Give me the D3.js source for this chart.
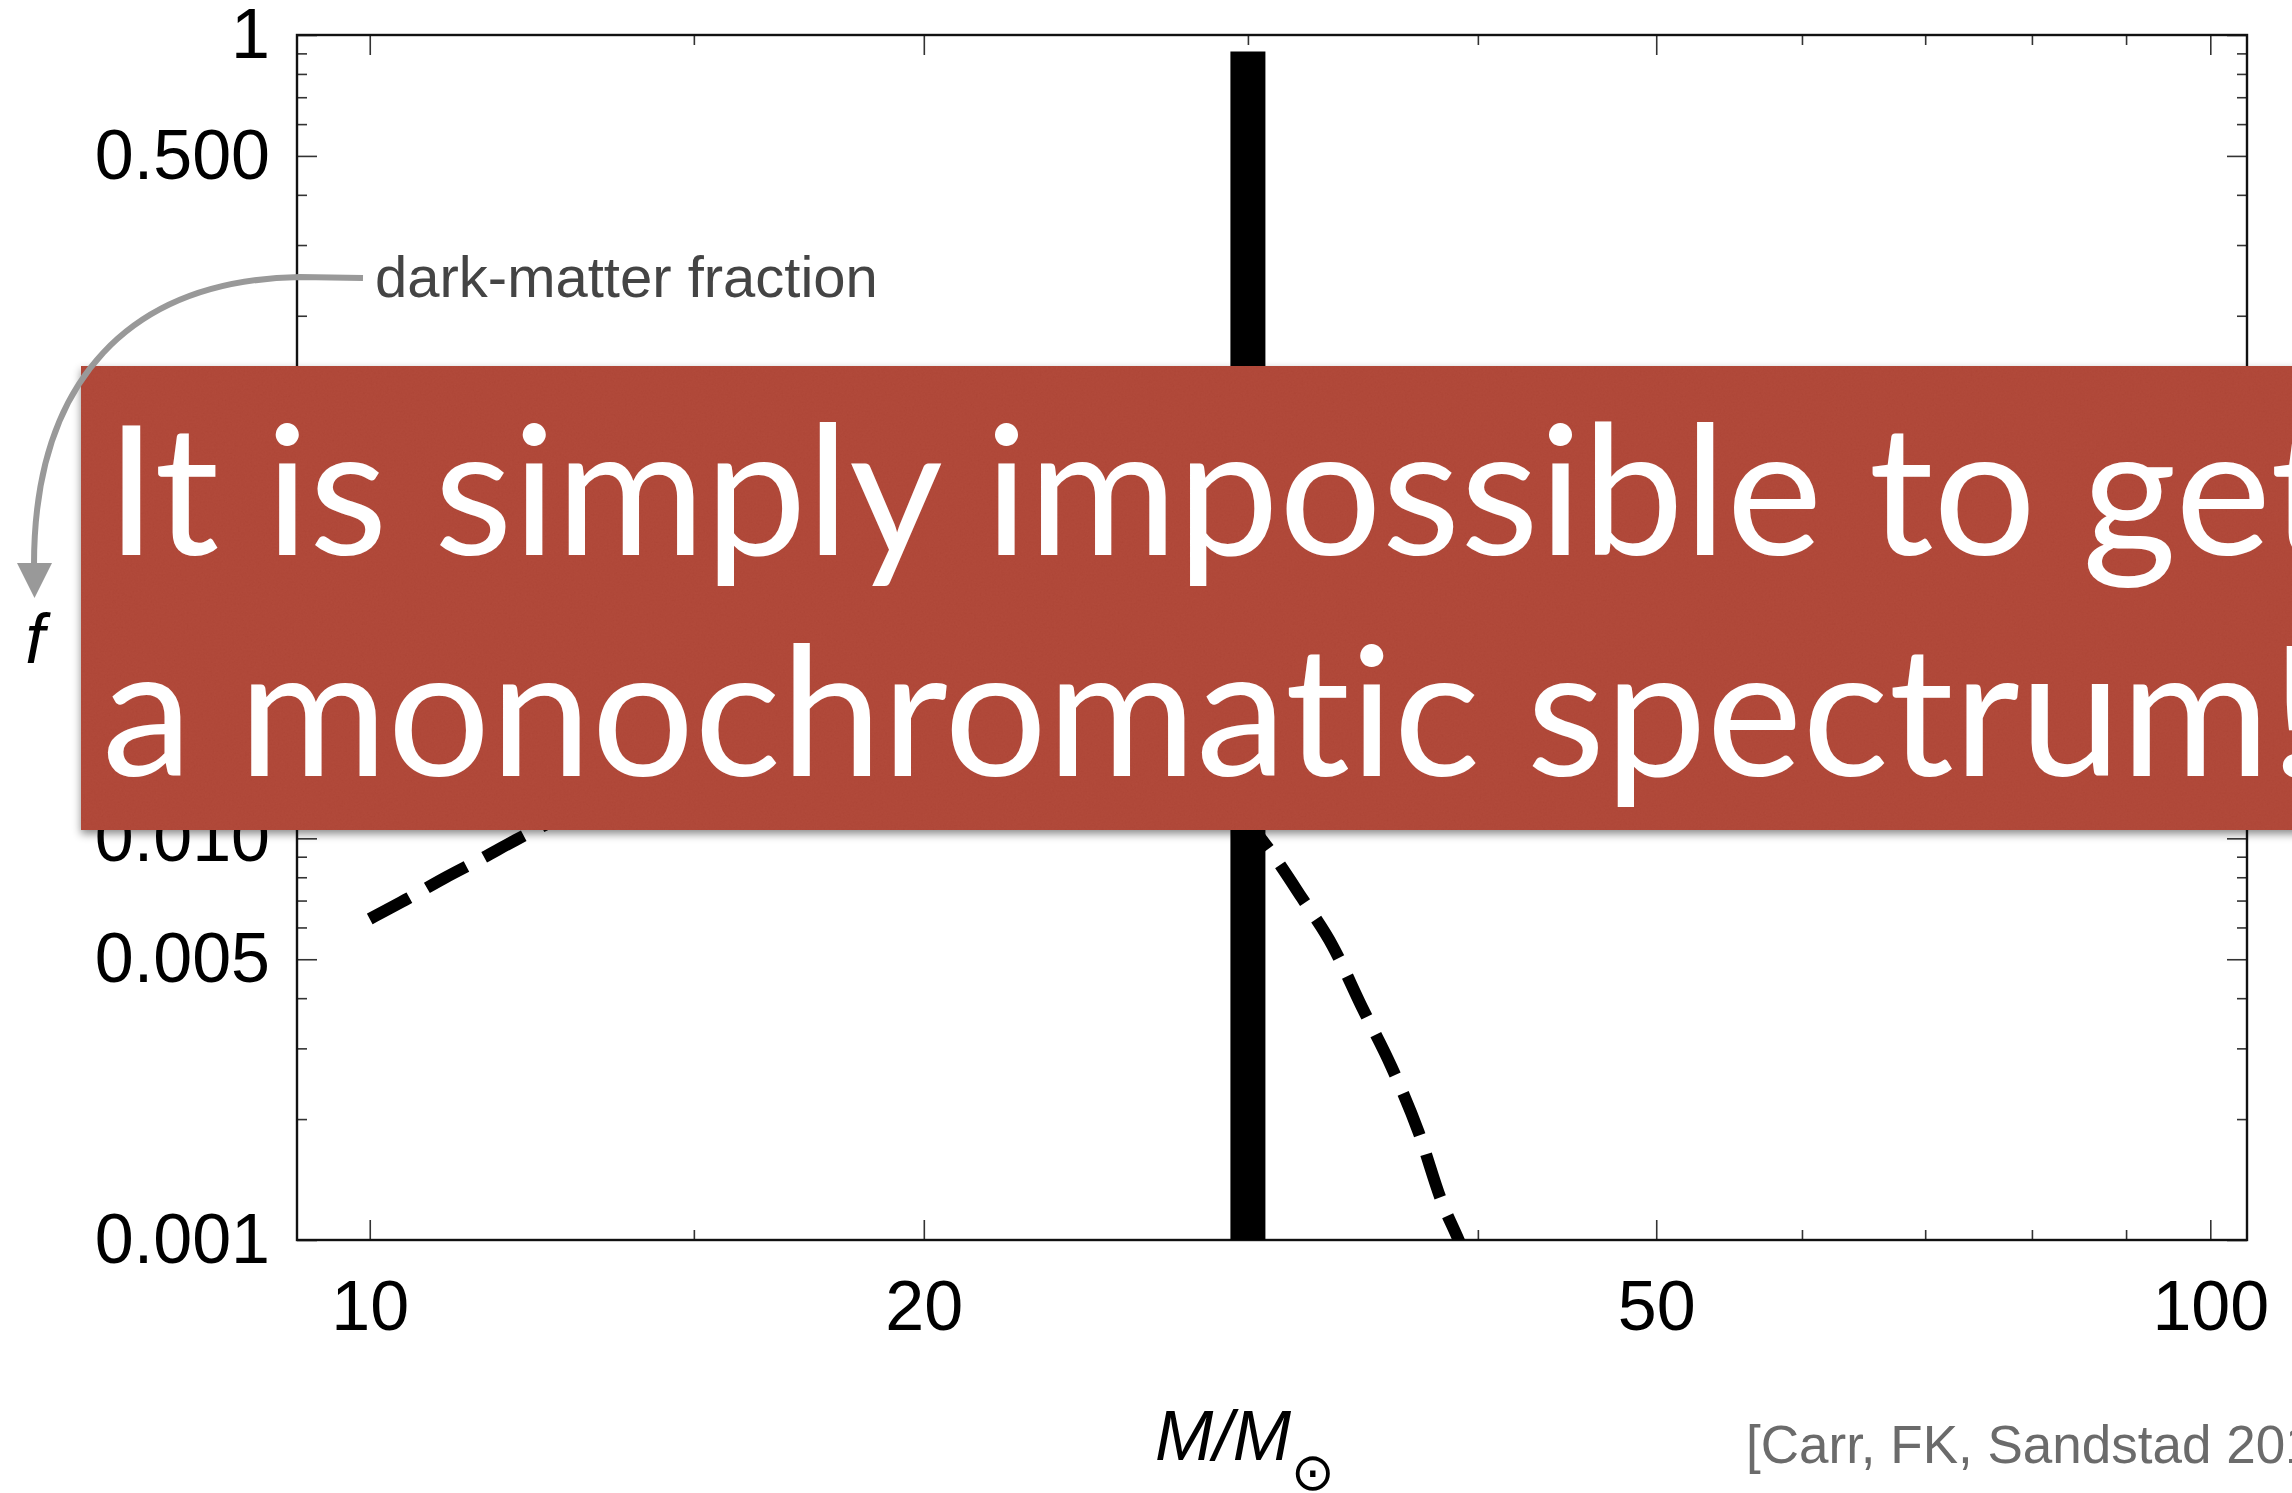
<!DOCTYPE html>
<html>
<head>
<meta charset="utf-8">
<script src="https://cdn.jsdelivr.net/npm/d3@7"></script>
<style>
  html, body { margin: 0; padding: 0; background: #ffffff; overflow: hidden; }
  svg { display: block; }
  text.banner { font-variant-ligatures: none; font-feature-settings: "liga" 0, "clig" 0, "dlig" 0; }
</style>
</head>
<body>
<svg id="chart" width="2292" height="1493"></svg>
<script>
// ---- axis extents ----
const massDomain = [9.13, 104.7];
const fractionDomain = [0.001, 1];

// ---- ticks ----
const xMajorTicks = [10, 20, 50, 100];
const xMajorLabels = ["10", "20", "50", "100"];
const xMinorTicks = [15, 30, 40, 60, 70, 80, 90];
const yMajorTicks = [1, 0.5, 0.1, 0.05, 0.01, 0.005, 0.001];
const yMajorLabels = ["1", "0.500", "0.100", "0.050", "0.010", "0.005", "0.001"];
const yMinorTicks = [0.9, 0.8, 0.7, 0.6, 0.4, 0.3, 0.2,
                     0.09, 0.08, 0.07, 0.06, 0.04, 0.03, 0.02,
                     0.009, 0.008, 0.007, 0.006, 0.004, 0.003, 0.002];

// ---- monochromatic spectrum (single mass) ----
const monoMass = [30];
const monoFraction = [0.91];

// ---- extended mass function (dashed) ----
const extMass = [10, 10.5, 11, 11.5, 12, 12.5, 14, 16, 18, 20, 22, 24, 26, 28, 30,
                 30.7, 32.1, 33.35, 34.6, 35.9, 37.15, 38.25, 39.05, 39.5];
const extFraction = [0.0063, 0.0071, 0.0080, 0.0089, 0.0099, 0.0109, 0.0143, 0.0186, 0.0222,
                     0.0250, 0.0264, 0.0250, 0.0209, 0.0155, 0.0110,
                     0.0096, 0.0071, 0.0054, 0.0038, 0.0027, 0.00185, 0.00124, 0.0010, 0.00088];

// ---- texts ----
const xAxisTitle = "M/M";
const xAxisSub = "\u2299";
const yAxisTitle = "f";
const yCallout = "dark-matter fraction";
const citation = "[Carr, FK, Sandstad 2016]";
const bannerLines = ["It is simply impossible to get", "a monochromatic spectrum!"];

// ---- layout ----
const W = 2292, H = 1493;
const plot = { left: 297, right: 2247, top: 35, bottom: 1240 };
const labelFont = "'Liberation Sans', Arial, Helvetica, sans-serif";

const svg = d3.select("#chart");
const defs = svg.append("defs");

defs.append("clipPath").attr("id", "plotClip")
  .append("rect")
  .attr("x", plot.left).attr("y", plot.top)
  .attr("width", plot.right - plot.left).attr("height", plot.bottom - plot.top);

const shadow = defs.append("filter").attr("id", "bandShadow")
  .attr("x", "-5%").attr("y", "-10%").attr("width", "110%").attr("height", "125%");
shadow.append("feDropShadow")
  .attr("dx", 0).attr("dy", 4).attr("stdDeviation", 4)
  .attr("flood-color", "#000").attr("flood-opacity", 0.45);

const grain = defs.append("filter").attr("id", "grain")
  .attr("x", 0).attr("y", 0).attr("width", "100%").attr("height", "100%");
grain.append("feTurbulence")
  .attr("type", "fractalNoise").attr("baseFrequency", 0.55)
  .attr("numOctaves", 3).attr("seed", 7).attr("result", "noise");
grain.append("feColorMatrix")
  .attr("type", "matrix")
  .attr("values", "0.33 0.33 0.33 0 0  0.33 0.33 0.33 0 0  0.33 0.33 0.33 0 0  0 0 0 0 1");

const x = d3.scaleLog().domain(massDomain).range([plot.left, plot.right]);
const y = d3.scaleLog().domain(fractionDomain).range([plot.bottom, plot.top]);

// ---- axes (ticks pointing inward) ----
function styleAxis(g) {
  g.select(".domain").remove();
  g.selectAll(".tick line").attr("stroke", "#333").attr("stroke-width", 1.6);
  g.attr("font-family", labelFont).attr("font-size", 70);
  g.selectAll(".tick text").attr("fill", "#000");
}

svg.append("g").attr("transform", `translate(0,${plot.bottom})`)
  .call(d3.axisBottom(x).tickValues(xMajorTicks)
        .tickFormat((d, i) => xMajorLabels[i]).tickSize(-20).tickPadding(40))
  .call(styleAxis);
svg.append("g").attr("transform", `translate(0,${plot.bottom})`)
  .call(d3.axisBottom(x).tickValues(xMinorTicks).tickFormat("").tickSize(-10))
  .call(styleAxis);
svg.append("g").attr("transform", `translate(0,${plot.top})`)
  .call(d3.axisTop(x).tickValues(xMajorTicks).tickFormat("").tickSize(-20))
  .call(styleAxis);
svg.append("g").attr("transform", `translate(0,${plot.top})`)
  .call(d3.axisTop(x).tickValues(xMinorTicks).tickFormat("").tickSize(-10))
  .call(styleAxis);

svg.append("g").attr("transform", `translate(${plot.left},0)`)
  .call(d3.axisLeft(y).tickValues(yMajorTicks)
        .tickFormat((d, i) => yMajorLabels[i]).tickSize(-20).tickPadding(27))
  .call(styleAxis);
svg.append("g").attr("transform", `translate(${plot.left},0)`)
  .call(d3.axisLeft(y).tickValues(yMinorTicks).tickFormat("").tickSize(-10))
  .call(styleAxis);
svg.append("g").attr("transform", `translate(${plot.right},0)`)
  .call(d3.axisRight(y).tickValues(yMajorTicks).tickFormat("").tickSize(-20))
  .call(styleAxis);
svg.append("g").attr("transform", `translate(${plot.right},0)`)
  .call(d3.axisRight(y).tickValues(yMinorTicks).tickFormat("").tickSize(-10))
  .call(styleAxis);

// frame
svg.append("rect")
  .attr("x", plot.left).attr("y", plot.top)
  .attr("width", plot.right - plot.left).attr("height", plot.bottom - plot.top)
  .attr("fill", "none").attr("stroke", "#111").attr("stroke-width", 2.4);

// ---- data marks ----
const marks = svg.append("g").attr("clip-path", "url(#plotClip)");

const extData = extMass.map((m, i) => ({ m, f: extFraction[i] }));
const line = d3.line().x(d => x(d.m)).y(d => y(d.f)).curve(d3.curveMonotoneX);
marks.append("path")
  .datum(extData)
  .attr("d", line)
  .attr("fill", "none")
  .attr("stroke", "#000")
  .attr("stroke-width", 12)
  .attr("stroke-dasharray", "45 20");

marks.selectAll("line.mono")
  .data(monoMass.map((m, i) => ({ m, f: monoFraction[i] })))
  .join("line")
  .attr("class", "mono")
  .attr("x1", d => x(d.m)).attr("x2", d => x(d.m))
  .attr("y1", y(fractionDomain[0])).attr("y2", d => y(d.f))
  .attr("stroke", "#000").attr("stroke-width", 35);

// ---- axis titles ----
const xt = svg.append("text")
  .attr("x", 1155).attr("y", 1460)
  .attr("font-family", labelFont).attr("font-size", 70)
  .attr("font-style", "italic").attr("fill", "#000");
xt.append("tspan").text(xAxisTitle);
xt.append("tspan")
  .attr("font-family", "'DejaVu Sans', sans-serif")
  .attr("font-style", "normal").attr("font-size", 52)
  .attr("dy", 30).attr("dx", 0)
  .text(xAxisSub);

svg.append("text")
  .attr("x", 35).attr("y", 663)
  .attr("text-anchor", "middle")
  .attr("font-family", labelFont).attr("font-size", 70)
  .attr("font-style", "italic").attr("fill", "#000")
  .text(yAxisTitle);

svg.append("text")
  .attr("x", 1746).attr("y", 1463)
  .attr("font-family", labelFont).attr("font-size", 53)
  .attr("fill", "#6b6b6b")
  .text(citation);

// ---- banner ----
const band = { x: 81, y: 366, h: 464 };
svg.append("rect")
  .attr("x", band.x).attr("y", band.y)
  .attr("width", W - band.x + 40).attr("height", band.h)
  .attr("fill", "#b04230")
  .attr("filter", "url(#bandShadow)");
svg.append("rect")
  .attr("x", band.x).attr("y", band.y)
  .attr("width", W - band.x + 40).attr("height", band.h)
  .attr("filter", "url(#grain)")
  .attr("opacity", 0.05);

const bannerFont = "Lato, 'Open Sans', sans-serif";
// size the banner type so the second line spans the band
const probe = svg.append("text")
  .attr("class", "banner")
  .attr("font-family", bannerFont).attr("font-size", 100)
  .text(bannerLines[1].replace("!", ""));
const probeW = probe.node().getComputedTextLength();
probe.remove();
const bannerSize = 100 * 2168 / probeW;

const bannerBaselines = [555, 776];
svg.selectAll("text.banner")
  .data(bannerLines)
  .join("text")
  .attr("class", "banner")
  .attr("x", (d, i) => i === 0 ? 106 : 102)
  .attr("y", (d, i) => bannerBaselines[i])
  .attr("font-family", bannerFont)
  .attr("font-size", bannerSize)
  .attr("fill", "#ffffff")
  .text(d => d);

// ---- callout for the vertical axis ----
svg.append("path")
  .attr("d", "M363,278 L300,277 C130,280 34,380 34,565")
  .attr("fill", "none").attr("stroke", "#999").attr("stroke-width", 6);
svg.append("path")
  .attr("d", "M17,563 L52,563 L34.5,598 Z")
  .attr("fill", "#999");
svg.append("text")
  .attr("x", 375).attr("y", 297)
  .attr("font-family", labelFont).attr("font-size", 58)
  .attr("fill", "#444")
  .text(yCallout);
</script>
</body>
</html>
